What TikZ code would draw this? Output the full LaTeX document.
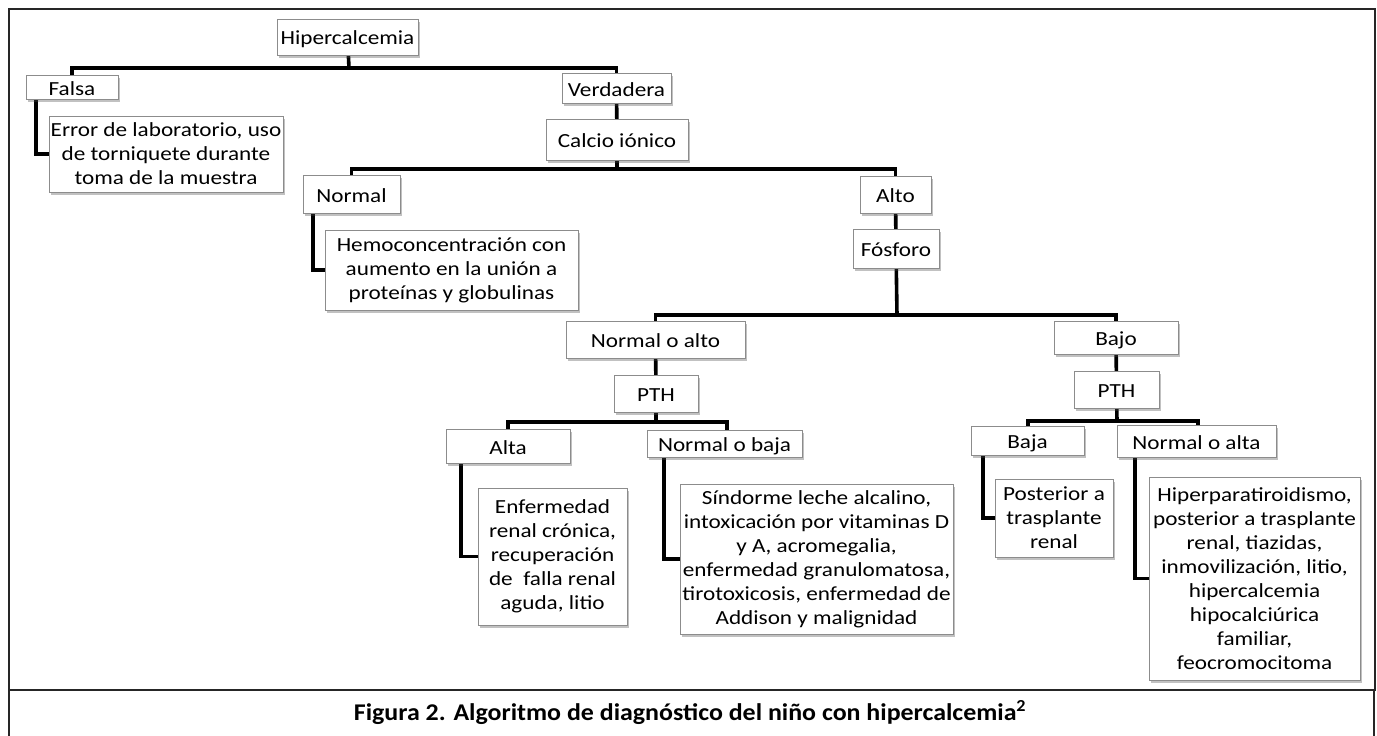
\documentclass[tikz,border=0pt]{standalone}
\usepackage{fontspec}
\setmainfont{Carlito}
\newfontfamily\boxfont[FakeStretch=1.16]{Carlito}
\newfontfamily\capfont[FakeStretch=1.08]{Carlito}
\usetikzlibrary{shadows}
\pgfdeclarelayer{bg}
\pgfsetlayers{bg,main}
\begin{document}
\begin{tikzpicture}[x=1pt,y=-1pt,
  box/.style={draw=black!45, fill=white, line width=0.8pt, inner sep=0pt, align=center,
    font=\boxfont\fontsize{20pt}{24pt}\selectfont,
    drop shadow={shadow xshift=2pt, shadow yshift=-2.5pt, opacity=0.35, fill=black!70}},
  one/.style={text height=16pt, text depth=0pt},
  sz/.style 2 args={minimum width=#1pt, minimum height=#2pt},
  conn/.style={draw=black, line width=3.6pt, line cap=rect, line join=miter},
  frame/.style={draw=black!85, line width=2pt}]
\useasboundingbox (0,0) rectangle (1377,736);
% frame
\draw[frame] (9,9) rectangle (1375,690);
\draw[frame] (9,690) -- (9,740);
\draw[frame] (1374,690) -- (1374,740);
\node[font=\capfont\bfseries\fontsize{24pt}{28pt}\selectfont] (cap) at (690,713) {Figura 2. Algoritmo de diagnóstico del niño con hipercalcemia\textsuperscript{2}};
% junction points
\coordinate (c1) at (349,68);
\coordinate (c2) at (617,169);
\coordinate (c3) at (897,315);
\coordinate (c4) at (656,422);
\coordinate (c5) at (1117,421);
% nodes
\node[box, one, sz={141}{36}] (hyp) at (347.5,37) {Hipercalcemia};
\node[box, one, sz={92}{24}] (falsa) at (72,87) {Falsa};
\node[box, sz={234}{76}] (error) at (166,154) {Error de laboratorio, uso\\de torniquete durante\\toma de la muestra};
\node[box, one, sz={109}{30}] (verd) at (616.5,88) {Verdadera};
\node[box, one, sz={142}{41}] (calcio) at (617,139.5) {Calcio iónico};
\node[box, one, sz={97}{38}] (normal) at (351.5,194) {Normal};
\node[box, sz={253}{80}] (hemo) at (451.5,270) {Hemoconcentración con\\aumento en la unión a\\proteínas y globulinas};
\node[box, one, sz={71}{37}] (alto) at (895.5,194.5) {Alto};
\node[box, one, sz={86}{39}] (fosf) at (896,248.5) {Fósforo};
\node[box, one, sz={179}{37}] (noa) at (655.5,339.5) {Normal o alto};
\node[box, one, sz={124}{33}] (bajo) at (1116,337.5) {Bajo};
\node[box, one, sz={84}{37}] (pth1) at (656,393.5) {PTH};
\node[box, one, sz={85}{37}] (pth2) at (1116.5,389.5) {PTH};
\node[box, one, sz={124}{34}] (alta) at (508,446) {Alta};
\node[box, one, sz={155}{27}] (nob) at (724.5,443.5) {Normal o baja};
\node[box, sz={149}{137}] (enf) at (552.5,556.5) {Enfermedad\\renal crónica,\\recuperación\\de\ \ falla renal\\aguda, litio};
\node[box, sz={273}{150}] (sind) at (816.5,559) {Síndorme leche alcalino,\\intoxicación por vitaminas D\\y A, acromegalia,\\enfermedad granulomatosa,\\tirotoxicosis, enfermedad de\\Addison y malignidad};
\node[box, one, sz={113}{29}] (baja) at (1027.5,440.5) {Baja};
\node[box, one, sz={159}{32}] (noalta) at (1196.5,441) {Normal o alta};
\node[box, sz={118}{78}] (post) at (1054,518) {Posterior a\\trasplante\\renal};
\node[box, sz={211}{203}] (hiper) at (1254.5,578.5) {Hiperparatiroidismo,\\posterior a trasplante\\renal, tiazidas,\\inmovilización, litio,\\hipercalcemia\\hipocalciúrica\\familiar,\\feocromocitoma};
% connectors (behind the boxes)
\begin{pgfonlayer}{bg}
\draw[conn] (hyp.center) -- (c1);
\draw[conn] (falsa.center) |- (c1) -| (verd.center);
\draw[conn] (verd.center) -- (calcio.center);
\draw[conn] (calcio.center) -- (c2);
\draw[conn] (normal.center) |- (c2) -| (alto.center);
\draw[conn] (alto.center) -- (fosf.center);
\draw[conn] (fosf.center) -- (c3);
\draw[conn] (noa.center) |- (c3) -| (bajo.center);
\draw[conn] (noa.center) -- (pth1.center);
\draw[conn] (bajo.center) -- (pth2.center);
\draw[conn] (pth1.center) -- (c4);
\draw[conn] (alta.north) |- (c4) -| (nob.north -| 727,0);
\draw[conn] (pth2.center) -- (c5);
\draw[conn] (baja.north -| 1028,0) |- (c5) -| (noalta.north -| 1198,0);
\draw[conn] (falsa.south -| 36,0) |- (error.center);
\draw[conn] (normal.south -| 313,0) |- (hemo.center);
\draw[conn] (alta.south -| 461,0) |- (enf.center);
\draw[conn] (nob.south -| 664,0) |- (sind.center);
\draw[conn] (baja.south -| 983,0) |- (post.center);
\draw[conn] (noalta.south -| 1135,0) |- (hiper.center);
\end{pgfonlayer}
\end{tikzpicture}
\end{document}
